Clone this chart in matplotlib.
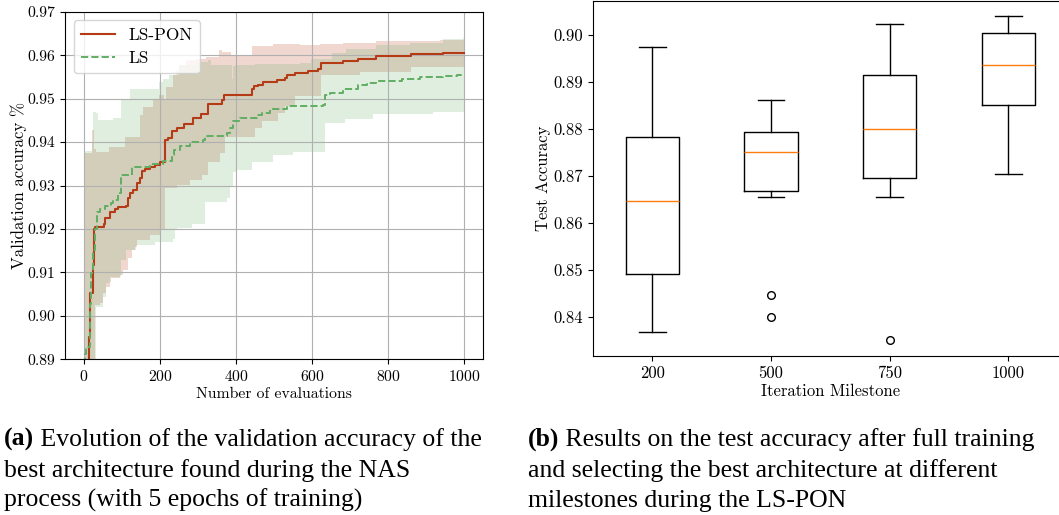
import numpy as np
import matplotlib
matplotlib.use('Agg')
import matplotlib.pyplot as plt

# ---------------- data: (a) validation accuracy during NAS ----------------
pon_mean_x = [0, 10, 13, 17, 24, 26, 28, 53, 56, 68, 81, 89, 111, 116, 120, 129, 139, 146, 152, 160, 173,
              186, 199, 212, 222, 231, 244, 264, 286, 307, 325, 364, 369, 443, 447, 458, 471, 507, 528, 533,
              555, 589, 616, 622, 655, 682, 721, 725, 769, 861, 945, 1000]
pon_mean_y = [0.875, 0.889, 0.8952, 0.9052, 0.9117, 0.9200, 0.9204, 0.9212, 0.9225, 0.9240, 0.9245, 0.9250,
              0.9253, 0.9271, 0.9282, 0.9290, 0.9305, 0.9317, 0.9334, 0.9338, 0.9342, 0.9348, 0.9355, 0.9404,
              0.9410, 0.9425, 0.9433, 0.9442, 0.9456, 0.9465, 0.9487, 0.9496, 0.9508, 0.9523, 0.9528, 0.9532,
              0.9538, 0.9542, 0.9547, 0.9555, 0.9560, 0.9563, 0.9567, 0.9581, 0.9583, 0.9587, 0.9590, 0.9592,
              0.9598, 0.9602, 0.9604, 0.9605]

ls_mean_x = [0, 2, 6, 15, 19, 24, 30, 34, 41, 54, 72, 76, 89, 98, 125, 174, 209, 231, 236, 253, 279, 314,
             318, 375, 384, 393, 410, 454, 467, 489, 533, 629, 633, 646, 682, 721, 743, 769, 835, 883, 945,
             980, 1000]
ls_mean_y = [0.889, 0.8913, 0.8928, 0.9028, 0.9098, 0.9152, 0.9200, 0.9240, 0.9245, 0.9252, 0.9259, 0.9267,
             0.9282, 0.9325, 0.9342, 0.9350, 0.9357, 0.9371, 0.9382, 0.9392, 0.9399, 0.9404, 0.9413, 0.9421,
             0.9432, 0.9448, 0.9455, 0.9463, 0.9468, 0.9475, 0.9482, 0.9486, 0.9508, 0.9513, 0.9523, 0.9531,
             0.9536, 0.9540, 0.9546, 0.9549, 0.9552, 0.9554, 0.9554]

pon_up_x = [0, 22, 26, 32, 67, 107, 146, 155, 181, 198, 211, 216, 233, 251, 268, 294, 320, 355, 364, 386,
            443, 498, 567, 620, 682, 769, 936, 1000]
pon_up_y = [0.9375, 0.9428, 0.9385, 0.9377, 0.9388, 0.9412, 0.9462, 0.9480, 0.9496, 0.9508, 0.9496, 0.9527,
            0.9554, 0.9577, 0.9588, 0.9592, 0.9595, 0.9612, 0.9608, 0.9600, 0.9620, 0.9625, 0.9623, 0.9625,
            0.9628, 0.9632, 0.9634, 0.9634]

pon_lo_x = [0, 28, 41, 50, 59, 68, 72, 94, 103, 116, 125, 133, 139, 173, 199, 213, 244, 279, 309, 327, 358,
            371, 449, 467, 511, 528, 555, 624, 725, 861, 1000]
pon_lo_y = [0.880, 0.9025, 0.9030, 0.9052, 0.9067, 0.9078, 0.9088, 0.9094, 0.9105, 0.9132, 0.9152, 0.9159,
            0.9175, 0.9185, 0.9198, 0.9294, 0.9302, 0.9313, 0.9325, 0.9355, 0.9375, 0.9412, 0.9432, 0.9448,
            0.9467, 0.9482, 0.9506, 0.9554, 0.9562, 0.9573, 0.9577]

ls_up_x = [0, 20, 24, 32, 37, 76, 98, 120, 198, 207, 224, 242, 251, 294, 325, 334, 388, 392, 396, 450, 567,
           598, 651, 690, 769, 857, 945, 997, 1000]
ls_up_y = [0.9380, 0.9400, 0.9469, 0.9467, 0.9450, 0.9455, 0.9496, 0.9523, 0.9538, 0.9546, 0.9554, 0.9565,
           0.9577, 0.9585, 0.9588, 0.9578, 0.9546, 0.9575, 0.9578, 0.9580, 0.9582, 0.9592, 0.9604, 0.9615,
           0.9623, 0.9627, 0.9637, 0.9640, 0.9640]

ls_lo_x = [0, 32, 50, 59, 68, 98, 111, 138, 187, 235, 239, 244, 283, 318, 375, 384, 393, 401, 441, 498, 550,
           633, 686, 761, 919, 1000]
ls_lo_y = [0.880, 0.9021, 0.9044, 0.9075, 0.9090, 0.9128, 0.9152, 0.9163, 0.9169, 0.9178, 0.9198, 0.9202,
           0.9212, 0.9263, 0.9271, 0.9298, 0.9332, 0.9336, 0.9355, 0.9371, 0.9378, 0.9444, 0.9452, 0.9465,
           0.9470, 0.9470]

# ---------------- data: (b) test accuracy box plots ----------------
milestones = ['200', '500', '750', '1000']
box_whislo = [0.8367, 0.8655, 0.8655, 0.8703]
box_q1 = [0.8490, 0.8667, 0.8694, 0.8851]
box_med = [0.8646, 0.8750, 0.8799, 0.8935]
box_q3 = [0.8782, 0.8794, 0.8914, 0.9003]
box_whishi = [0.8974, 0.8862, 0.9023, 0.9039]
box_fliers = [[], [0.8446, 0.8399], [0.8350], []]

caption_a = ['(a)', ' Evolution of the validation accuracy of the',
             'best architecture found during the NAS',
             'process (with 5 epochs of training)']
caption_b = ['(b)', ' Results on the test accuracy after full training',
             'and selecting the best architecture at different',
             'milestones during the LS-PON']

RED = '#b53a16'
GREEN = '#5fae62'

plt.rcParams['font.family'] = 'cmr10'
plt.rcParams['mathtext.fontset'] = 'cm'
plt.rcParams['axes.formatter.use_mathtext'] = True
plt.rcParams['axes.unicode_minus'] = False


def step_on(xs, ys, grid):
    xs = np.asarray(xs, dtype=float)
    ys = np.asarray(ys, dtype=float)
    idx = np.clip(np.searchsorted(xs, grid, side='right') - 1, 0, len(xs) - 1)
    return ys[idx]


W, H = 1059, 515
fig = plt.figure(figsize=(W / 100, H / 100), dpi=100)

# ---------------- left panel ----------------
fs1 = 11.3
ax1 = fig.add_axes([65 / W, 1 - 359.3 / H, (483.3 - 65) / W, (359.3 - 11.7) / H])
g = np.union1d(pon_up_x, pon_lo_x)
ax1.fill_between(g, step_on(pon_lo_x, pon_lo_y, g), step_on(pon_up_x, pon_up_y, g),
                 step='post', color=RED, alpha=0.2, lw=0)
g = np.union1d(ls_up_x, ls_lo_x)
ax1.fill_between(g, step_on(ls_lo_x, ls_lo_y, g), step_on(ls_up_x, ls_up_y, g),
                 step='post', color=GREEN, alpha=0.2, lw=0)
ax1.plot(pon_mean_x, pon_mean_y, drawstyle='steps-post', color=RED, lw=1.5, label='LS-PON')
ax1.plot(ls_mean_x, ls_mean_y, drawstyle='steps-post', color=GREEN, lw=1.4, ls='--', label='LS')
ax1.set_xlim(-50, 1050)
ax1.set_ylim(0.89, 0.97)
ax1.set_xticks([0, 200, 400, 600, 800, 1000])
yt = [0.89, 0.90, 0.91, 0.92, 0.93, 0.94, 0.95, 0.96, 0.97]
ax1.set_yticks(yt)
ax1.set_yticklabels(['%.2f' % v for v in yt])
ax1.tick_params(labelsize=fs1)
ax1.grid(True, color='#b0b0b0', lw=0.8)
ax1.set_xlabel('Number of evaluations', fontsize=fs1, labelpad=2)
ax1.set_ylabel('Validation accuracy %', fontsize=12.2, labelpad=0.5)
ax1.legend(loc='upper left', fontsize=12.4)

# ---------------- right panel ----------------
fs2 = 12
ax2 = fig.add_axes([593 / W, 1 - 356 / H, 474.7 / W, 355.5 / H])
stats = []
for i in range(len(milestones)):
    stats.append(dict(med=box_med[i], q1=box_q1[i], q3=box_q3[i], whislo=box_whislo[i],
                      whishi=box_whishi[i], fliers=box_fliers[i], label=milestones[i]))
ax2.bxp(stats, positions=[1, 2, 3, 4], widths=0.45,
        medianprops=dict(color='#ff7f0e', lw=1.0),
        flierprops=dict(marker='o', markerfacecolor='none', markeredgecolor='k', markersize=5.5))
ax2.set_xlim(0.5, 4.5)
ax2.set_ylim(0.8316, 0.9073)
yt2 = [0.84, 0.85, 0.86, 0.87, 0.88, 0.89, 0.90]
ax2.set_yticks(yt2)
ax2.set_yticklabels(['%.2f' % v for v in yt2])
ax2.tick_params(labelsize=fs2)
ax2.set_xlabel('Iteration Milestone', fontsize=fs2, labelpad=2)
ax2.set_ylabel('Test Accuracy', fontsize=fs2, labelpad=1.5)

# ---------------- captions ----------------
cfs = 18.5
cfont = 'Liberation Serif'


def caption(x0, lines):
    y0 = 1 - 446 / H
    t = fig.text(x0 / W, y0, lines[0], fontsize=cfs, family=cfont, weight='bold', va='baseline')
    fig.add_artist(plt.Annotation(lines[1], xy=(1, 0), xycoords=t, va='bottom', ha='left',
                                  fontsize=cfs, family=cfont))
    for k, ln in enumerate(lines[2:]):
        fig.text(x0 / W, y0 - (k + 1) * 30.5 / H, ln, fontsize=cfs, family=cfont, va='baseline')


caption(4, caption_a)
caption(528, caption_b)

fig.savefig('out.png', dpi=100)
